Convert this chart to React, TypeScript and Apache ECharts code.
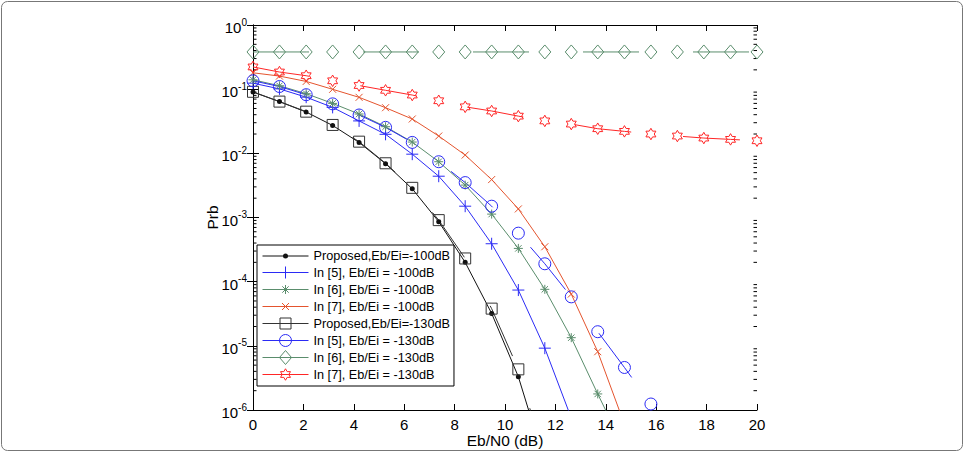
import React, { useEffect, useRef } from 'react';
import * as echarts from 'echarts';

// Eb/N0 sample points (dB)
const ebN0 = [0, 1.05, 2.11, 3.16, 4.21, 5.26, 6.32, 7.37, 8.42, 9.47, 10.53, 11.58, 12.63, 13.68, 14.74, 15.79, 16.84, 17.89, 18.95, 20];

// Error probability curves, Eb/Ei = -100 dB
const proposed100 = [0.09, 0.064, 0.044, 0.0272, 0.0148, 0.0069, 0.0028, 8.6e-4, 2.0e-4, 3.2e-5, 3.3e-6, 1.5e-7];
const ref5_100 = [0.124, 0.101, 0.075, 0.052, 0.032, 0.0198, 0.0097, 0.0044, 0.0015, 3.9e-4, 7.4e-5, 9.2e-6, 7.5e-7];
const ref6_100 = [0.14, 0.113, 0.085, 0.06, 0.041, 0.026, 0.015, 0.0074, 0.0032, 1.13e-3, 3.3e-4, 7.6e-5, 1.34e-5, 1.78e-6, 2.5e-7];
const ref7_100 = [0.18, 0.16, 0.132, 0.0995, 0.0746, 0.0514, 0.0343, 0.0186, 0.0094, 0.0039, 0.00136, 3.5e-4, 6.4e-5, 8.1e-6, 6e-7];

// Error probability curves, Eb/Ei = -130 dB
const proposed130 = [0.091, 0.064, 0.0446, 0.0277, 0.0152, 0.007, 0.0029, 9.1e-4, 2.3e-4, 3.8e-5, 4.3e-6, 1.7e-7];
const ref5_130 = [0.135, 0.11, 0.082, 0.059, 0.0396, 0.0254, 0.0148, 0.0074, 0.0035, 1.5e-3, 5.7e-4, 1.9e-4, 5.8e-5, 1.66e-5, 4.6e-6, 1.24e-6];
const ref6_130 = [0.38, 0.38, 0.38, 0.38, 0.38, 0.38, 0.38, 0.38, 0.38, 0.38, 0.38, 0.38, 0.38, 0.38, 0.38, 0.38, 0.38, 0.38, 0.38, 0.38];
const ref7_130 = [0.222, 0.185, 0.162, 0.135, 0.114, 0.096, 0.081, 0.066, 0.053, 0.0457, 0.038, 0.032, 0.0286, 0.0242, 0.022, 0.02, 0.0186, 0.0173, 0.0165, 0.0157];

const legendNames = [
  'Proposed,Eb/Ei=-100dB',
  'In [5], Eb/Ei = -100dB',
  'In [6], Eb/Ei = -100dB',
  'In [7], Eb/Ei = -100dB',
  'Proposed,Eb/Ei=-130dB',
  'In [5], Eb/Ei = -130dB',
  'In [6], Eb/Ei = -130dB',
  'In [7], Eb/Ei = -130dB',
];

const FONT = 'Liberation Sans, Arial, Helvetica, sans-serif';

// Every marker is drawn inside the same 14px box (the leading moveTo pair fixes
// the box), so chart markers and legend icons keep their own relative sizes.
const BOX = 14;
const frame = 'M-7,-7M7,7';
const DOT = `path://${frame}M2.5,0A2.5,2.5,0,1,1,-2.5,0A2.5,2.5,0,1,1,2.5,0Z`;
const PLUS = `path://${frame}M0,-6L0,6M-6,0L6,0`;
const ASTERISK = `path://${frame}M0,-4.5L0,4.5M-4.5,0L4.5,0M-3.2,-3.2L3.2,3.2M-3.2,3.2L3.2,-3.2`;
const CROSS = `path://${frame}M-3.5,-3.5L3.5,3.5M-3.5,3.5L3.5,-3.5`;
const SQUARE = `path://${frame}M-5.5,-5.5L5.5,-5.5L5.5,5.5L-5.5,5.5Z`;
const RING = `path://${frame}M6,0A6,6,0,1,1,-6,0A6,6,0,1,1,6,0Z`;
const DIAMOND = `path://${frame}M0,-7L6,0L0,7L-6,0Z`;
const HEXAGRAM =
  `path://${frame}M0,-5.75L1.66,-2.875L4.98,-2.875L3.32,0L4.98,2.875L1.66,2.875L0,5.75` +
  'L-1.66,2.875L-4.98,2.875L-3.32,0L-4.98,-2.875L-1.66,-2.875Z';

const BLACK = '#111111';
const GRAY = '#333333';
const BLUE = '#2b2bf5';
const GREEN = '#5a8d6c';
const ORANGE = '#e4542e';
const RED = '#ff2626';

const curveColors = [BLACK, BLUE, GREEN, ORANGE, GRAY, BLUE, GREEN, RED];
const curveFilled = [true, false, false, false, false, false, false, false];

// minor ticks of the log axis: 2..9 x 10^k
const minorTicks: number[] = [];
for (let e = -6; e < 0; e++) {
  for (let m = 2; m <= 9; m++) minorTicks.push(m * Math.pow(10, e));
}

function pairs(ys: number[]) {
  return ys.map((y, i) => [ebN0[i], y]);
}

function markerStyle(i: number) {
  const color = curveColors[i];
  return curveFilled[i]
    ? { color, borderColor: color, borderWidth: 0 }
    : { color: 'rgba(0,0,0,0)', borderColor: color, borderWidth: 1 };
}

function curve(i: number, ys: number[], symbol: string, dash?: number[]) {
  return {
    type: 'line',
    name: legendNames[i],
    data: pairs(ys),
    symbol,
    symbolSize: BOX,
    showAllSymbol: true,
    clip: true,
    lineStyle: { color: curveColors[i], width: 1, type: dash ? dash : 'solid', dashOffset: 0 },
    itemStyle: markerStyle(i),
    emphasis: { disabled: true },
  };
}

export default function App() {
  const ref = useRef<HTMLDivElement>(null);

  useEffect(() => {
    if (!ref.current) return;
    const chart = echarts.init(ref.current, undefined, { renderer: 'svg' });

    const axisLine = { show: true, lineStyle: { color: '#000', width: 1 } };
    const majorTick = { show: true, inside: true, length: 6, lineStyle: { color: '#000' } };

    chart.setOption({
      animation: false,
      backgroundColor: '#fff',
      textStyle: { fontFamily: FONT },
      graphic: [
        {
          type: 'rect',
          shape: { x: 1.5, y: 1.5, width: 961, height: 449, r: 6 },
          style: { fill: 'none', stroke: '#777', lineWidth: 1 },
          silent: true,
        },
      ],
      grid: { left: 253, right: 208, top: 25, bottom: 44, containLabel: false },
      legend: {
        data: legendNames.map((name, i) => ({
          name,
          lineStyle: { color: curveColors[i], width: 1, type: 'solid' },
          itemStyle: markerStyle(i),
        })),
        orient: 'vertical',
        left: 257,
        top: 245,
        backgroundColor: '#fff',
        borderColor: '#000',
        borderWidth: 1,
        padding: [4, 4, 4, 5],
        itemWidth: 46,
        itemHeight: BOX / 0.8,
        itemGap: 2,
        selectedMode: false,
        textStyle: { fontSize: 12.7, color: '#000', fontFamily: FONT },
      },
      xAxis: [
        {
          type: 'value',
          min: 0,
          max: 20,
          interval: 2,
          position: 'bottom',
          name: 'Eb/N0 (dB)',
          nameLocation: 'middle',
          nameGap: 22,
          nameMoveOverlap: false,
          nameTextStyle: { fontSize: 15.5, color: '#000', fontFamily: FONT },
          axisLine,
          axisTick: majorTick,
          axisLabel: { fontSize: 15, color: '#000', margin: 7, fontFamily: FONT },
          splitLine: { show: false },
        },
        {
          type: 'value',
          min: 0,
          max: 20,
          interval: 2,
          position: 'top',
          axisLine,
          axisTick: majorTick,
          axisLabel: { show: false },
          splitLine: { show: false },
        },
      ],
      yAxis: [
        {
          type: 'log',
          logBase: 10,
          min: 1e-6,
          max: 1,
          splitNumber: 6,
          position: 'left',
          name: 'Prb',
          nameLocation: 'middle',
          nameGap: 33,
          nameRotate: 90,
          nameMoveOverlap: false,
          nameTextStyle: { fontSize: 15.5, color: '#000', fontFamily: FONT },
          axisLine,
          axisTick: majorTick,
          axisLabel: {
            margin: 6,
            color: '#000',
            formatter: (v: number) => {
              const e = Math.round(Math.log10(v));
              return `{b|10}{s|${e}}`;
            },
            rich: {
              b: { fontSize: 15, lineHeight: 16, padding: [5, 0, 0, 0], color: '#000', fontFamily: FONT },
              s: { fontSize: 10, lineHeight: 10, verticalAlign: 'top', color: '#000', fontFamily: FONT },
            },
          },
          splitLine: { show: false },
        },
        {
          type: 'log',
          logBase: 10,
          min: 1e-6,
          max: 1,
          splitNumber: 6,
          position: 'right',
          axisLine,
          axisTick: majorTick,
          axisLabel: { show: false },
          splitLine: { show: false },
        },
      ],
      series: [
        {
          type: 'custom',
          name: 'minor ticks',
          silent: true,
          clip: false,
          data: minorTicks.map((v) => [0, v]),
          renderItem: (params: any, api: any) => {
            const p = api.coord([0, api.value(1)]);
            const cs = params.coordSys;
            const len = 3.5;
            return {
              type: 'group',
              children: [
                {
                  type: 'line',
                  shape: { x1: cs.x, y1: p[1], x2: cs.x + len, y2: p[1] },
                  style: { stroke: '#000', lineWidth: 1 },
                },
                {
                  type: 'line',
                  shape: { x1: cs.x + cs.width - len, y1: p[1], x2: cs.x + cs.width, y2: p[1] },
                  style: { stroke: '#000', lineWidth: 1 },
                },
              ],
            };
          },
        },
        curve(0, proposed100, DOT),
        curve(1, ref5_100, PLUS),
        curve(2, ref6_100, ASTERISK),
        curve(3, ref7_100, CROSS),
        curve(4, proposed130, SQUARE, [55, 55]),
        curve(5, ref5_130, RING, [55, 55]),
        curve(6, ref6_130, DIAMOND, [56, 54]),
        curve(7, ref7_130, HEXAGRAM, [57, 52]),
      ],
    });

    return () => {
      chart.dispose();
    };
  }, []);

  return (
    <div
      ref={ref}
      style={{ position: 'fixed', left: 0, top: 0, width: 965, height: 454, background: '#fff' }}
    />
  );
}
